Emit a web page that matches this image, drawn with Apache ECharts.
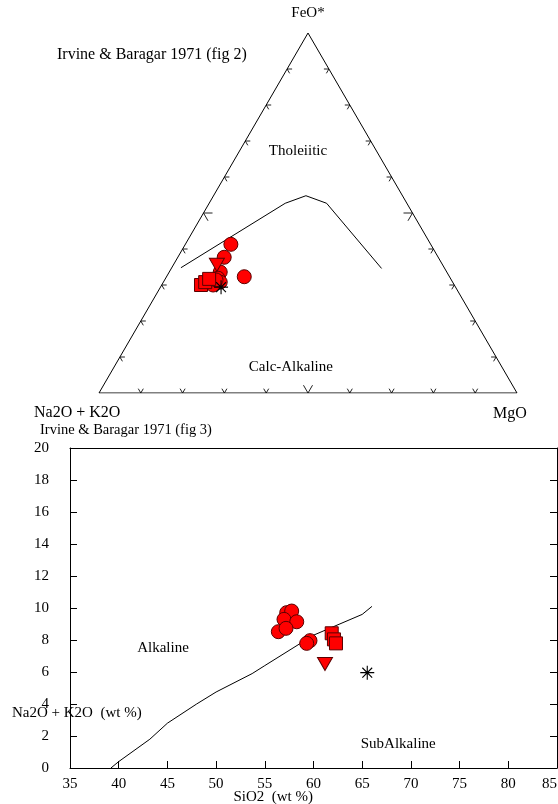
<!DOCTYPE html>
<html>
<head>
<meta charset="utf-8">
<script src="https://cdn.jsdelivr.net/npm/echarts@6/dist/echarts.min.js"></script>
<style>
  html, body { margin: 0; padding: 0; background: #ffffff; }
  #chart { width: 558px; height: 804px; }
</style>
</head>
<body>
<div id="chart"></div>
<script>
// ---- AFM ternary compositions: [Na2O+K2O, FeO*, MgO] (%)
const afmCircles = [
  [47.8, 41.3, 10.9], [51.2, 37.7, 11.1], [49.1, 32.3, 18.6], [54.2, 33.6, 12.2],
  [55.6, 31.9, 12.5], [55.6, 30.8, 13.6], [57.7, 30.0, 12.3], [56.3, 31.4, 12.3]
];
const afmSquares = [[60.6, 30.0, 9.4], [59.2, 30.8, 10.0], [57.8, 31.7, 10.5]];
const afmTriangles = [[54.0, 35.6, 10.4]];
const afmStars = [[56.1, 29.4, 14.5]];
// Tholeiitic / calc-alkaline boundary
const afmBoundary = [[63.0, 34.8, 2.2], [29.1, 52.7, 18.2], [23.1, 54.8, 22.1], [19.2, 52.7, 28.1], [15.1, 34.6, 50.3]];
const ternaryTicks = [10, 20, 30, 40, 50, 60, 70, 80, 90];

// ---- Total alkali vs silica: [SiO2, Na2O+K2O] (wt %)
const tasCircles = [
  [57.25, 9.71], [57.76, 9.81], [56.97, 9.29], [58.28, 9.14],
  [56.39, 8.52], [57.18, 8.73], [59.64, 7.96], [59.30, 7.79]
];
const tasSquares = [[61.87, 8.42], [62.10, 8.04], [62.31, 7.79]];
const tasTriangles = [[61.18, 6.5]];
const tasStars = [[65.52, 5.96]];
// Alkaline / subalkaline divide
const alkalineDivide = [
  [39.2, 0], [40, 0.4], [43.2, 1.8], [45, 2.8], [48, 4], [50, 4.75],
  [53.7, 5.9], [55, 6.4], [60, 8.3], [65, 9.6], [66, 10.1]
];
const silicaRange = [35, 85];
const alkaliRange = [0, 20];

// ternary composition -> cartesian (x along base, y = FeO* fraction)
function tern(c) {
  const s = c[0] + c[1] + c[2];
  const f = c[1] / s, m = c[2] / s;
  return [m + f / 2, f];
}

const vA = tern([100, 0, 0]);   // Na2O + K2O
const vF = tern([0, 100, 0]);   // FeO*
const vM = tern([0, 0, 100]);   // MgO

// tick items: [x, y, edge, percent]; edges: 0 = A-M (base), 1 = A-F (left), 2 = F-M (right)
const edges = [[vA, vM, vF], [vA, vF, vM], [vF, vM, vA]];
const tickData = [];
edges.forEach((e, ei) => {
  ternaryTicks.forEach(t => {
    const k = t / 100;
    tickData.push([e[0][0] + (e[1][0] - e[0][0]) * k, e[0][1] + (e[1][1] - e[0][1]) * k, ei, t]);
  });
});

const SERIF = '"Liberation Serif", "DejaVu Serif", serif';
const red = '#ff0000';
const edgeCol = '#5a0000';

const chart = echarts.init(document.getElementById('chart'), null, { renderer: 'canvas' });

function markerSeries(kind, data, xi, yi) {
  const base = {
    type: 'scatter',
    xAxisIndex: xi, yAxisIndex: yi,
    data: data,
    z: 5,
    animation: false,
    itemStyle: { color: red, borderColor: edgeCol, borderWidth: 1, opacity: 1 },
    emphasis: { disabled: true }
  };
  if (kind === 'circle') { base.symbol = 'circle'; base.symbolSize = 14; }
  if (kind === 'square') { base.symbol = 'rect'; base.symbolSize = 13; }
  if (kind === 'triangle') { base.symbol = 'triangle'; base.symbolRotate = 180; base.symbolSize = [15, 13]; }
  if (kind === 'star') {
    base.symbol = 'path://M6 0 L6 12 M0 6 L12 6 M1.8 1.8 L10.2 10.2 M1.8 10.2 L10.2 1.8';
    base.symbolSize = 14;
    base.itemStyle = { color: 'rgba(0,0,0,0)', borderColor: '#000', borderWidth: 1.1, opacity: 1 };
    base.z = 6;
  }
  return base;
}

function fieldLabels(xi, yi, items) {
  return {
    type: 'scatter', xAxisIndex: xi, yAxisIndex: yi, symbolSize: 1, silent: true,
    itemStyle: { color: 'rgba(0,0,0,0)', opacity: 1 },
    data: items.map(it => ({ value: it.at, label: { formatter: it.text } })),
    label: { show: true, position: 'inside', color: '#000', opacity: 1, fontFamily: SERIF, fontSize: 15 }
  };
}

const option = {
  backgroundColor: '#ffffff',
  animation: false,
  grid: [
    { left: 99, top: 33, width: 418, height: 360, containLabel: false, outerBoundsMode: 'none' },
    { left: 70, top: 448, width: 487, height: 320, containLabel: false, outerBoundsMode: 'none' }
  ],
  xAxis: [
    { gridIndex: 0, type: 'value', min: 0, max: 1, show: false },
    {
      gridIndex: 1, type: 'value', min: silicaRange[0], max: silicaRange[1], interval: 5,
      axisLine: { lineStyle: { color: '#000', width: 1 } },
      axisTick: { inside: true, length: 7, lineStyle: { color: '#000' } },
      axisLabel: { color: '#000', fontFamily: SERIF, fontSize: 15, margin: 9, alignMaxLabel: 'right' },
      splitLine: { show: false }
    },
    {
      gridIndex: 1, type: 'value', position: 'top', min: silicaRange[0], max: silicaRange[1],
      axisLine: { onZero: false, lineStyle: { color: '#000', width: 1 } },
      axisTick: { show: false }, axisLabel: { show: false }, splitLine: { show: false }
    }
  ],
  yAxis: [
    { gridIndex: 0, type: 'value', min: 0, max: 1, show: false },
    {
      gridIndex: 1, type: 'value', min: alkaliRange[0], max: alkaliRange[1], interval: 2,
      axisLine: { show: true, lineStyle: { color: '#000', width: 1 } },
      axisTick: { show: true, inside: true, length: 7, lineStyle: { color: '#000' } },
      axisLabel: { color: '#000', fontFamily: SERIF, fontSize: 15, margin: 21 },
      splitLine: { show: false }
    },
    {
      gridIndex: 1, type: 'value', position: 'right', min: alkaliRange[0], max: alkaliRange[1], interval: 2,
      axisLine: { show: true, onZero: false, lineStyle: { color: '#000', width: 1 } },
      axisTick: { show: true, inside: true, length: 7, lineStyle: { color: '#000' } },
      axisLabel: { show: false }, splitLine: { show: false }
    }
  ],
  graphic: [
    { type: 'text', x: 308, y: 13, style: { text: 'FeO*', font: '15px ' + SERIF, fill: '#000', align: 'center', verticalAlign: 'middle' } },
    { type: 'text', x: 57, y: 55, style: { text: 'Irvine & Baragar 1971 (fig 2)', font: '16px ' + SERIF, fill: '#000', align: 'left', verticalAlign: 'middle' } },
    { type: 'text', x: 34, y: 413, style: { text: 'Na2O + K2O', font: '16px ' + SERIF, fill: '#000', align: 'left', verticalAlign: 'middle' } },
    { type: 'text', x: 510, y: 414, style: { text: 'MgO', font: '16px ' + SERIF, fill: '#000', align: 'center', verticalAlign: 'middle' } },
    { type: 'text', x: 40, y: 430, style: { text: 'Irvine & Baragar 1971 (fig 3)', font: '14.5px ' + SERIF, fill: '#000', align: 'left', verticalAlign: 'middle' } },
    { type: 'text', x: 12, y: 713, z: 10, style: { text: 'Na2O + K2O  (wt %)', font: '15px ' + SERIF, fill: '#000', align: 'left', verticalAlign: 'middle' } },
    { type: 'text', x: 313, y: 797, style: { text: 'SiO2  (wt %)', font: '15px ' + SERIF, fill: '#000', align: 'right', verticalAlign: 'middle' } }
  ],
  series: [
    // triangle frame
    {
      type: 'line', xAxisIndex: 0, yAxisIndex: 0, data: [vA, vF, vM, vA],
      symbol: 'none', lineStyle: { color: '#000', width: 1 }, silent: true, z: 2
    },
    // chevron ticks along the edges
    {
      type: 'custom', xAxisIndex: 0, yAxisIndex: 0, data: tickData, silent: true, z: 2,
      renderItem: function (params, api) {
        const p = api.coord([api.value(0), api.value(1)]);
        const e = edges[api.value(2)];
        const a = api.coord(e[0]), b = api.coord(e[1]), r = api.coord(e[2]);
        const len = api.value(3) === 50 ? 9 : 5;
        const unit = (from) => {
          const dx = r[0] - from[0], dy = r[1] - from[1];
          const d = Math.hypot(dx, dy);
          return [dx / d, dy / d];
        };
        const u1 = unit(a), u2 = unit(b);
        return {
          type: 'polyline',
          shape: { points: [[p[0] + u1[0] * len, p[1] + u1[1] * len], p, [p[0] + u2[0] * len, p[1] + u2[1] * len]] },
          style: { stroke: '#222', lineWidth: 1, fill: null }
        };
      }
    },
    // boundary curve
    {
      type: 'line', xAxisIndex: 0, yAxisIndex: 0, data: afmBoundary.map(tern),
      symbol: 'none', lineStyle: { color: '#000', width: 1 }, silent: true, z: 3
    },
    fieldLabels(0, 0, [
      { at: [0.476, 0.672], text: 'Tholeiitic' },
      { at: [0.459, 0.072], text: 'Calc-Alkaline' }
    ]),
    markerSeries('circle', afmCircles.map(tern), 0, 0),
    markerSeries('square', afmSquares.map(tern), 0, 0),
    markerSeries('triangle', afmTriangles.map(tern), 0, 0),
    markerSeries('star', afmStars.map(tern), 0, 0),

    // TAS divide
    {
      type: 'line', xAxisIndex: 1, yAxisIndex: 1, data: alkalineDivide,
      symbol: 'none', lineStyle: { color: '#000', width: 1 }, silent: true, z: 3
    },
    fieldLabels(1, 1, [
      { at: [44.55, 7.5], text: 'Alkaline' },
      { at: [68.7, 1.5], text: 'SubAlkaline' }
    ]),
    markerSeries('circle', tasCircles, 1, 1),
    markerSeries('square', tasSquares, 1, 1),
    markerSeries('triangle', tasTriangles, 1, 1),
    markerSeries('star', tasStars, 1, 1)
  ]
};

chart.setOption(option);
</script>
</body>
</html>
